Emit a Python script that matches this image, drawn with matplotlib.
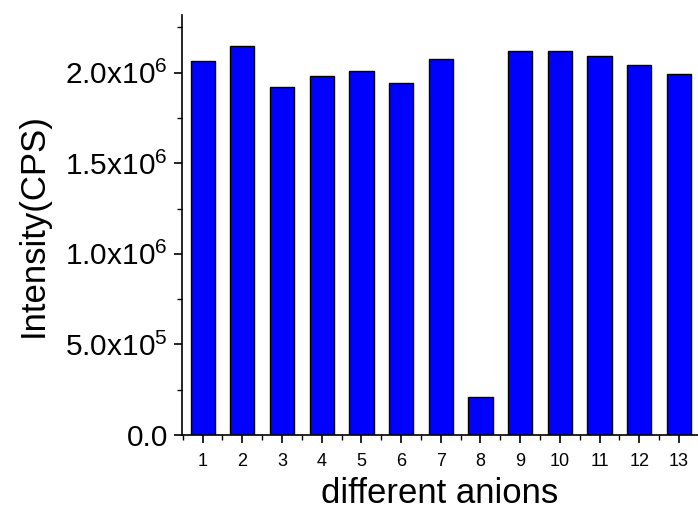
import math
import matplotlib
matplotlib.use("Agg")
import matplotlib.pyplot as plt
from matplotlib.ticker import FuncFormatter, MultipleLocator, FixedLocator

plt.rcParams['font.family'] = ['Liberation Sans', 'DejaVu Sans']
plt.rcParams['mathtext.default'] = 'regular'

categories = list(range(1, 14))
intensity = [2.066e6, 2.145e6, 1.919e6, 1.983e6, 2.010e6, 1.941e6, 2.077e6,
             0.208e6, 2.117e6, 2.117e6, 2.090e6, 2.040e6, 1.990e6]

fig = plt.figure(figsize=(6.98, 5.16), dpi=100)
ax = fig.add_axes([182/698, 1-435/516, 1-182/698, (435-15)/516])

ax.bar(categories, intensity, width=0.61, color='#0000ff', edgecolor='black', linewidth=1.0, zorder=2)

ax.set_xlim(0.48, 13.48)
ax.set_ylim(0, 2.318e6)

ax.spines['top'].set_visible(False)
ax.spines['right'].set_visible(False)
for s in ('left', 'bottom'):
    ax.spines[s].set_linewidth(1.2)

ax.set_xticks(categories)
ax.set_xticklabels([str(c) for c in categories])
ax.xaxis.set_minor_locator(FixedLocator([c - 0.5 for c in categories] + [13.5]))
ax.yaxis.set_major_locator(MultipleLocator(0.5e6))
ax.yaxis.set_minor_locator(MultipleLocator(0.25e6))

def yfmt(v, pos):
    if abs(v) < 1:
        return '0.0'
    if v < 0:
        return ''
    e = int(math.floor(math.log10(v)))
    m = v / 10**e
    return r'%.1fx10$^{%d}$' % (m, e)

ax.yaxis.set_major_formatter(FuncFormatter(yfmt))

ax.tick_params(axis='both', which='major', direction='out', length=6, width=1.2)
ax.tick_params(axis='both', which='minor', direction='out', length=3.5, width=1.0)
ax.tick_params(axis='y', labelsize=21.5, pad=4)
ax.tick_params(axis='x', labelsize=13, pad=7)

ax.set_xlabel('different anions', fontsize=25, labelpad=5)
ax.set_ylabel('Intensity(CPS)', fontsize=25, labelpad=11)

fig.savefig('out.png', dpi=100)
